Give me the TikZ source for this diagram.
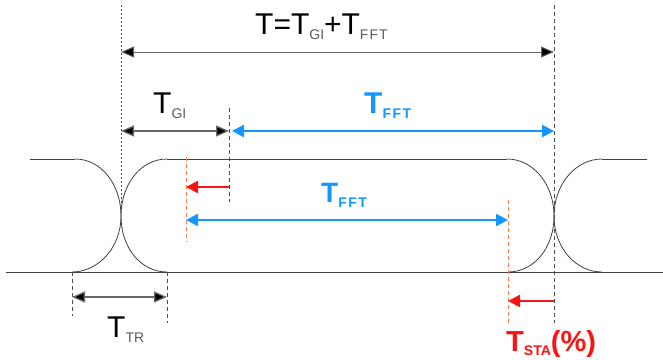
\documentclass[tikz,border=0pt]{standalone}
\usepackage{fontspec}
\setmainfont{Liberation Sans}
\usetikzlibrary{arrows.meta, positioning}

% Цвета
\definecolor{fftblue}{RGB}{20,150,255}
\definecolor{stared}{RGB}{250,20,20}
\definecolor{cutorange}{RGB}{255,125,70}
\definecolor{subgray}{RGB}{90,90,90}

% Подстрочный индекс
\newcommand{\lowsub}[3][5pt]{\raisebox{-#1}{\fontsize{14}{14}\selectfont\color{#2}#3}}

\tikzset{
    lbl/.style={inner sep=0pt, anchor=base west, font=\fontsize{30}{32}\selectfont},
    wave/.style={draw=black!75, line width=0.8pt},
    guide/.style={draw=black!70, dashed, dash pattern=on 4pt off 3pt, line width=0.7pt},
    cut/.style={draw=cutorange, dashed, dash pattern=on 4pt off 3pt, line width=0.8pt},
    dimblack/.style={draw=black!60, line width=1.3pt, {Triangle[length=13pt,width=11pt,fill=black]}-{Triangle[length=13pt,width=11pt,fill=black]}},
    dimblue/.style={draw=fftblue, line width=2.6pt, {Triangle[length=12pt,width=12pt]}-{Triangle[length=12pt,width=12pt]}},
    dimred/.style={draw=stared, line width=2.6pt, -{Triangle[length=12pt,width=12pt]}}
}

\begin{document}
\begin{tikzpicture}[x=1pt, y=-1pt]
    \useasboundingbox (0,0) rectangle (663,359);

    % Сигнал
    \draw[wave] (6,272) -- (663,272);
    \draw[wave] (30,159) -- (75,159);
    \draw[wave] (167,159) -- (507,159);
    \draw[wave] (602,159) -- (647,159);
    \draw[wave] (75,159) .. controls (101,159) and (121,184) .. (121,216)
                         .. controls (121,248) and (141,272) .. (167,272);
    \draw[wave] (72,272) .. controls (98,272) and (121,248) .. (121,216)
                         .. controls (121,184) and (141,159) .. (167,159);
    \draw[wave] (507,159) .. controls (533,159) and (554,184) .. (554,216)
                          .. controls (554,248) and (576,272) .. (602,272);
    \draw[wave] (508,272) .. controls (534,272) and (554,248) .. (554,216)
                          .. controls (554,184) and (576,159) .. (602,159);

    % Вертикальные линии
    \coordinate (symL) at (121,52);
    \coordinate (symR) at (554,52);
    \coordinate (giEnd) at (229,131);
    \coordinate (fftA) at (186,220);
    \coordinate (fftB) at (508,220);
    \coordinate (trA) at (72,297);
    \coordinate (trB) at (167,297);
    \draw[guide, dash pattern=on 2pt off 2pt] (121,5) -- (121,207);
    \draw[guide] (554,5) -- (554,323);
    \draw[guide] (229,108) -- (229,202);
    \draw[guide] (72,272) -- (72,316);
    \draw[guide] (167,272) -- (167,323);
    \draw[cut] (186,157) -- (186,242);
    \draw[cut] (508,200) -- (508,325);

    % Стрелки
    \draw[dimblack, line width=1pt] (symL) -- (symR);
    \draw[dimblack] (symL |- giEnd) -- (giEnd);
    \draw[dimblue] (232,131) -- (symR |- giEnd);
    \draw[dimred] (giEnd |- 0,187) -- (fftA |- 0,187);
    \draw[dimblue] (fftA) -- (fftB);
    \draw[dimred] (symR |- 0,301) -- (fftB |- 0,301);
    \draw[dimblack] (trA) -- (trB);

    % Подписи
    \node[lbl] (total) at (255,34) {T=T\lowsub{subgray}{GI}+T\lowsub{subgray}{F\kern1pt F\kern1pt T}};
    \node[lbl] (gi) at (153,113) {T\lowsub{subgray}{GI}};
    \node[lbl, text=fftblue, font=\fontsize{30}{32}\selectfont\bfseries] (fftTop) at (364,113) {T\lowsub{fftblue}{\bfseries F\kern1.5pt F\kern1.5pt T}};
    \node[lbl, text=fftblue, font=\fontsize{28}{30}\selectfont\bfseries] (fftMid) at (321,202) {T\lowsub{fftblue}{\bfseries F\kern1.5pt F\kern1.5pt T}};
    \node[lbl] (tr) at (107,337) {T\lowsub{subgray}{TR}};
    \node[lbl, text=stared, font=\fontsize{29}{31}\selectfont\bfseries] (sta) at (506,351) {T\lowsub[4pt]{stared}{\bfseries STA}(\%)};

\end{tikzpicture}
\end{document}
